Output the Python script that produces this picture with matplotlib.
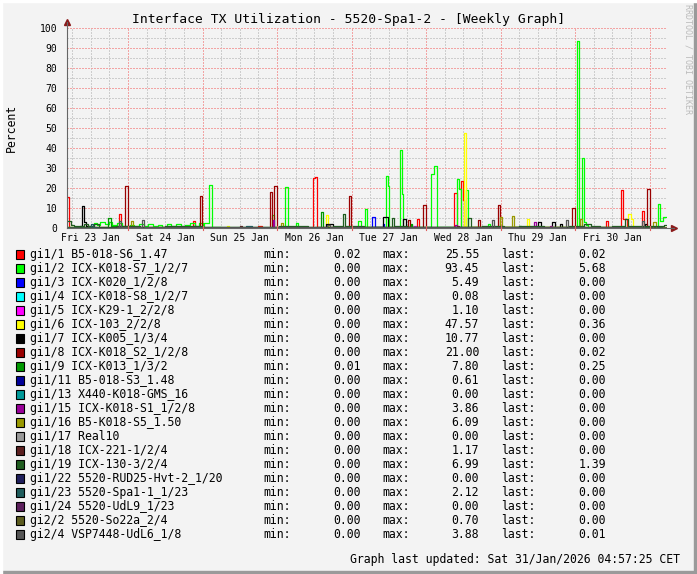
# RRDtool style weekly TX utilisation graph
import matplotlib
matplotlib.use('Agg')
import matplotlib.pyplot as plt
from matplotlib.patches import Rectangle

plt.rcParams['font.family'] = ['DejaVu Sans Mono', 'DejaVu Sans']

W, H = 697, 574
T0, T1 = 4.35, 197.6   # hours since Fri 23 Jan 00:00

day_labels = ['Fri 23 Jan', 'Sat 24 Jan', 'Sun 25 Jan', 'Mon 26 Jan',
              'Tue 27 Jan', 'Wed 28 Jan', 'Thu 29 Jan', 'Fri 30 Jan']

# each series: (hour, value) steps, value holds until next hour
s_gi1_1 = [(4.35, 15.5), (5.0, 0.3), (21.1, 7.0), (21.8, 0.3), (45.0, 3.5), (45.6, 0.2),
           (66.0, 1.2), (67.0, 0.2), (83.6, 24.9), (84.25, 25.55), (84.9, 0.3), (117.1, 4.6),
           (117.75, 0.2), (129.0, 17.6), (130.0, 0.4), (131.3, 23.6), (131.9, 14.0), (132.3, 0.5),
           (178.0, 3.6), (178.6, 0.4), (182.8, 18.8), (183.5, 4.5), (184.6, 0.4), (189.6, 8.3),
           (190.3, 0.02)]
s_gi1_2 = [(4.35, 0.3), (13.0, 2.5), (14.0, 1.5), (15.0, 3.0), (16.5, 2.0), (18.0, 2.8),
           (19.0, 1.5), (20.5, 2.5), (22.0, 0.5), (24.5, 1.5), (26.0, 0.8), (27.5, 1.8),
           (29.0, 1.2), (30.5, 2.0), (32.0, 1.0), (33.5, 1.6), (35.0, 0.7), (36.5, 1.8),
           (38.0, 1.2), (39.5, 2.0), (41.0, 1.0), (42.5, 1.5), (44.0, 2.4), (45.6, 1.2),
           (47.0, 2.3), (48.0, 0.3), (48.6, 2.3), (50.1, 21.6), (51.1, 0.3), (54.0, 0.2),
           (70.4, 6.5), (71.0, 0.3), (74.6, 20.5), (75.5, 0.3), (78.1, 2.3), (78.8, 0.2),
           (98.1, 3.5), (99.1, 0.3), (100.35, 9.6), (101.0, 0.3), (107.1, 26.1), (107.8, 21.0),
           (108.1, 0.3), (111.6, 39.0), (112.3, 17.0), (112.6, 0.3), (121.6, 27.0), (122.6, 31.0),
           (123.5, 0.4), (130.0, 24.6), (130.6, 19.6), (131.3, 0.4), (132.9, 19.0), (133.5, 0.5),
           (134.2, 0.3), (140.0, 2.0), (140.6, 0.3), (168.6, 93.45), (169.3, 0.5), (170.25, 35.0),
           (170.9, 3.0), (171.5, 1.5), (172.2, 0.3), (194.7, 12.0), (195.4, 3.3), (196.35, 5.68)]
s_gi1_3 = [(4.35, 0.0), (45.0, 0.8), (46.0, 0.0), (102.6, 5.49), (103.6, 0.3), (106.0, 2.0),
           (106.6, 0.0), (115.0, 1.5), (115.6, 0.0)]
s_gi1_4 = [(4.35, 0.0), (100.0, 0.08), (101.0, 0.0)]
s_gi1_5 = [(4.35, 0.0), (116.0, 0.8), (116.6, 0.0), (154.8, 1.1), (155.4, 0.0)]
s_gi1_6 = [(4.35, 0.0), (56.0, 1.0), (56.6, 0.0), (87.8, 6.5), (88.4, 0.2), (132.24, 47.57),
           (132.89, 0.3), (152.5, 4.3), (153.2, 0.2), (185.1, 7.0), (186.0, 4.5), (186.6, 0.2),
           (196.0, 0.36)]
s_gi1_7 = [(4.35, 0.1), (8.5, 1.2), (9.2, 10.77), (9.8, 3.0), (10.5, 1.0), (12.0, 0.2),
           (87.8, 2.0), (90.0, 0.3), (106.15, 5.3), (107.8, 0.3), (112.6, 4.5), (113.6, 0.3),
           (156.1, 3.0), (157.0, 0.2), (160.6, 3.0), (161.6, 0.2), (163.2, 2.0), (163.8, 0.2),
           (190.5, 2.0), (191.2, 0.0)]
s_gi1_8 = [(4.35, 0.0), (23.0, 21.0), (24.0, 0.2), (47.2, 16.0), (47.8, 0.2), (69.75, 17.8),
           (70.4, 0.3), (71.0, 21.0), (72.0, 0.2), (95.2, 16.0), (95.8, 0.2), (114.2, 4.0),
           (114.85, 0.2), (119.0, 11.7), (120.0, 0.2), (136.75, 4.0), (137.4, 0.2), (143.2, 11.7),
           (143.8, 0.2), (167.0, 10.0), (168.0, 0.2), (191.2, 19.6), (192.2, 0.02)]
s_gi1_9 = [(4.35, 0.5), (17.6, 5.0), (18.5, 0.8), (25.0, 0.5), (86.2, 7.8), (86.8, 0.5),
           (115.0, 2.0), (115.6, 0.5), (150.0, 1.0), (150.6, 0.4), (196.0, 0.25)]
s_gi1_11 = [(4.35, 0.0), (45.2, 0.61), (46.0, 0.0)]
s_gi1_13 = [(4.35, 0.0)]
s_gi1_15 = [(4.35, 0.0), (70.7, 3.86), (71.0, 0.0), (129.4, 1.5), (130.0, 0.0), (154.8, 2.8),
            (155.4, 0.0), (160.0, 1.0), (160.6, 0.0)]
s_gi1_16 = [(4.35, 0.0), (25.0, 3.5), (25.6, 0.2), (73.3, 2.5), (73.9, 0.2), (88.5, 1.5),
            (89.1, 0.2), (143.8, 5.7), (144.5, 0.2), (147.7, 6.09), (148.35, 0.3), (169.6, 4.5),
            (170.2, 0.2), (193.1, 2.8), (194.1, 0.0)]
s_gi1_17 = [(4.35, 0.0)]
s_gi1_18 = [(4.35, 0.0), (60.0, 1.17), (60.6, 0.0), (130.0, 0.8), (130.6, 0.0)]
s_gi1_19 = [(4.35, 3.3), (5.6, 1.5), (6.5, 0.8), (9.8, 2.0), (11.0, 1.0), (13.0, 2.0),
            (14.5, 0.5), (20.0, 1.0), (28.0, 0.5), (36.0, 0.8), (48.0, 0.3), (60.0, 0.6),
            (66.0, 0.3), (72.5, 0.8), (80.0, 1.0), (82.0, 0.5), (90.0, 1.0), (93.26, 6.99),
            (93.91, 0.8), (98.0, 1.2), (100.0, 0.5), (109.0, 5.0), (109.7, 0.8), (114.0, 0.5),
            (126.0, 0.5), (133.5, 5.0), (134.5, 0.6), (138.0, 1.2), (145.0, 0.6), (150.0, 1.0),
            (158.0, 0.6), (166.0, 0.8), (171.0, 1.8), (173.0, 0.8), (176.0, 0.5), (180.0, 1.0),
            (184.1, 4.5), (185.0, 1.2), (188.0, 0.8), (196.6, 1.39)]
s_gi1_22 = [(4.35, 0.0)]
s_gi1_23 = [(4.35, 0.0), (12.0, 2.12), (12.6, 0.3), (14.0, 0.0), (62.0, 0.8), (64.0, 0.0)]
s_gi1_24 = [(4.35, 0.0)]
s_gi2_2 = [(4.35, 0.0), (140.0, 0.7), (141.0, 0.0)]
s_gi2_4 = [(4.35, 0.0), (21.1, 3.3), (21.8, 0.3), (28.5, 3.88), (29.15, 0.3), (35.0, 0.5),
           (60.0, 0.5), (88.0, 1.5), (89.0, 0.3), (141.3, 3.88), (141.9, 0.3), (165.1, 3.88),
           (165.7, 0.3), (189.6, 3.5), (190.3, 0.01)]

names = ['gi1/1 B5-018-S6_1.47', 'gi1/2 ICX-K018-S7_1/2/7', 'gi1/3 ICX-K020_1/2/8',
         'gi1/4 ICX-K018-S8_1/2/7', 'gi1/5 ICX-K29-1_2/2/8', 'gi1/6 ICX-103_2/2/8',
         'gi1/7 ICX-K005_1/3/4', 'gi1/8 ICX-K018_S2_1/2/8', 'gi1/9 ICX-K013_1/3/2',
         'gi1/11 B5-018-S3_1.48', 'gi1/13 X440-K018-GMS_16', 'gi1/15 ICX-K018-S1_1/2/8',
         'gi1/16 B5-K018-S5_1.50', 'gi1/17 Real10', 'gi1/18 ICX-221-1/2/4',
         'gi1/19 ICX-130-3/2/4', 'gi1/22 5520-RUD25-Hvt-2_1/20', 'gi1/23 5520-Spa1-1_1/23',
         'gi1/24 5520-UdL9_1/23', 'gi2/2 5520-So22a_2/4', 'gi2/4 VSP7448-UdL6_1/8']
colors = ['#FF0000', '#00FF00', '#0000FF', '#00FFFF', '#FF00FF', '#FFFF00', '#000000',
          '#990000', '#009900', '#000099', '#009999', '#990099', '#999900', '#999999',
          '#5C2020', '#1F5C1F', '#1F1F5C', '#1F5C5C', '#5C1F5C', '#5C5C1F', '#555555']
mins = ['0.02', '0.00', '0.00', '0.00', '0.00', '0.00', '0.00', '0.00', '0.01', '0.00', '0.00',
        '0.00', '0.00', '0.00', '0.00', '0.00', '0.00', '0.00', '0.00', '0.00', '0.00']
maxs = ['25.55', '93.45', '5.49', '0.08', '1.10', '47.57', '10.77', '21.00', '7.80', '0.61',
        '0.00', '3.86', '6.09', '0.00', '1.17', '6.99', '0.00', '2.12', '0.00', '0.70', '3.88']
lasts = ['0.02', '5.68', '0.00', '0.00', '0.00', '0.36', '0.00', '0.02', '0.25', '0.00', '0.00',
         '0.00', '0.00', '0.00', '0.00', '1.39', '0.00', '0.00', '0.00', '0.00', '0.01']

series = [s_gi1_1, s_gi1_2, s_gi1_3, s_gi1_4, s_gi1_5, s_gi1_6, s_gi1_7, s_gi1_8, s_gi1_9,
          s_gi1_11, s_gi1_13, s_gi1_15, s_gi1_16, s_gi1_17, s_gi1_18, s_gi1_19, s_gi1_22,
          s_gi1_23, s_gi1_24, s_gi2_2, s_gi2_4]

bg = '#F3F3F3'
fig = plt.figure(figsize=(W / 100, H / 100), dpi=100, facecolor=bg)
ax = fig.add_axes([67 / W, 1 - 228 / H, 600 / W, 200 / H])
ax.set_facecolor(bg)
ax.set_xlim(T0, T1)
ax.set_ylim(0, 100)

# dotted grid like rrdtool
dot = (0, (2, 2))
for h in range(6, 198, 6):
    if h % 24:
        ax.axvline(h, color='#CDCDCD', lw=0.72, ls=dot, zorder=0, antialiased=False)
for v in range(5, 100, 10):
    ax.axhline(v, color='#CDCDCD', lw=0.72, ls=dot, zorder=0, antialiased=False)
for h in range(24, 198, 24):
    ax.axvline(h, color='#F2A4A4', lw=0.72, ls=dot, zorder=0, antialiased=False)
for v in range(10, 101, 10):
    ax.axhline(v, color='#F2A4A4', lw=0.72, ls=dot, zorder=0, antialiased=False)

for s, c in zip(series, colors):
    t = [p[0] for p in s] + [T1]
    v = [p[1] for p in s] + [s[-1][1]]
    ax.plot(t, v, drawstyle='steps-post', color=c, lw=0.9, zorder=2)

for sp in ax.spines.values():
    sp.set_visible(False)
ax.set_xticks([])
ax.set_yticks(range(0, 101, 10))
ax.set_yticklabels([str(v) for v in range(0, 101, 10)], fontsize=7)
ax.tick_params(axis='y', length=0, pad=7)

# axes with arrows
ax.plot([0, 0], [0, 1.03], transform=ax.transAxes, color='#666666', lw=0.8, clip_on=False, zorder=3)
ax.plot([0, 1.012], [0, 0], transform=ax.transAxes, color='#666666', lw=0.8, clip_on=False, zorder=3)
ax.plot([0], [1.03], marker='^', ms=4, color='#8B1A1A', transform=ax.transAxes, clip_on=False)
ax.plot([1.012], [0], marker='>', ms=4, color='#8B1A1A', transform=ax.transAxes, clip_on=False)
for h in range(24, 198, 24):
    ax.plot([h, h], [-1.2, 1.2], color='#E06060', lw=0.8, clip_on=False, zorder=3)

for i, lab in enumerate(day_labels):
    ax.text(12 + 24 * i, -5, lab, ha='center', va='center', fontsize=7)

# text
fig.text(0.5, 1 - 19 / H, 'Interface TX Utilization - 5520-Spa1-2 - [Weekly Graph]',
         ha='center', va='center', fontsize=9.4)
fig.text(11 / W, 1 - 128 / H, 'Percent', rotation=90, ha='center', va='center', fontsize=8.3)
fig.text(688 / W, 1 - 4 / H, 'RRDTOOL / TOBI OETIKER', rotation=270, ha='center', va='top',
         fontsize=6, color='#BBBBBB')

for i in range(len(names)):
    y = 1 - (254.3 + 14.0 * i) / H
    fig.patches.append(Rectangle((15.5 / W, y - 4.5 / H), 8.5 / W, 8.5 / H, transform=fig.transFigure,
                                 facecolor=colors[i], edgecolor='black', lw=0.8))
    fig.text(30 / W, y, names[i], ha='left', va='center', fontsize=8.3)
    fig.text(263 / W, y, 'min:', ha='left', va='center', fontsize=8.3)
    fig.text(361 / W, y, mins[i], ha='right', va='center', fontsize=8.3)
    fig.text(382 / W, y, 'max:', ha='left', va='center', fontsize=8.3)
    fig.text(479 / W, y, maxs[i], ha='right', va='center', fontsize=8.3)
    fig.text(501 / W, y, 'last:', ha='left', va='center', fontsize=8.3)
    fig.text(606 / W, y, lasts[i], ha='right', va='center', fontsize=8.3)

fig.text(680 / W, 1 - 560 / H, 'Graph last updated: Sat 31/Jan/2026 04:57:25 CET',
         ha='right', va='center', fontsize=8.3)

# frame
fig.patches.append(Rectangle((0, 0), 1, 3 / H, transform=fig.transFigure, color='#9A9A9A'))
fig.patches.append(Rectangle((1 - 3 / W, 0), 3 / W, 1, transform=fig.transFigure, color='#9A9A9A'))
fig.patches.append(Rectangle((0, 1 - 2 / H), 1, 2 / H, transform=fig.transFigure, color='#FFFFFF'))
fig.patches.append(Rectangle((0, 0), 2 / W, 1, transform=fig.transFigure, color='#FFFFFF'))

fig.savefig('out.png', dpi=100, facecolor=bg)
